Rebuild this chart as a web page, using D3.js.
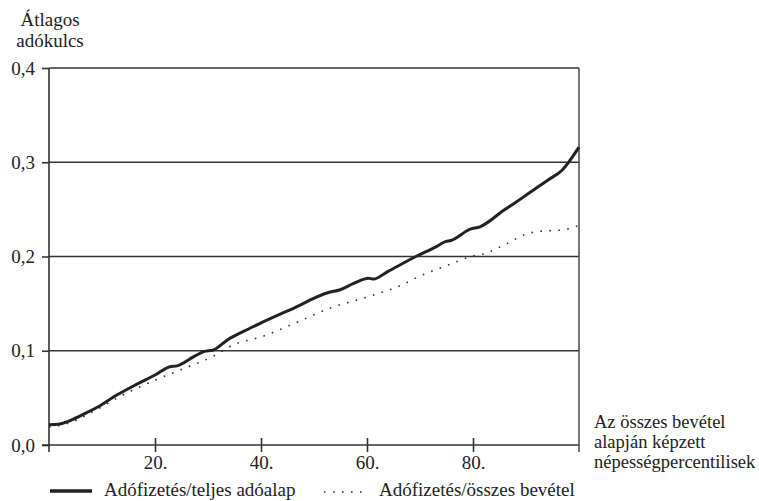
<!DOCTYPE html>
<html><head><meta charset="utf-8">
<script src="https://cdn.jsdelivr.net/npm/d3@7"></script>
<style>body{margin:0;background:#fff}svg{display:block}text{font-family:"Liberation Serif","Times New Roman",serif;fill:#222}</style>
</head><body><svg id="c" width="759" height="501"></svg>
<script>
const solidX = [0,1.8,3.6,5.9,9.1,12.8,16.4,20.1,22.8,24.2,27.4,29.2,31.1,33.8,36.5,40.2,45.7,52.9,54.8,57.5,60.3,61.2,63.9,69.4,73.1,74.9,75.8,79.5,81.3,85.8,89.5,94.1,96.8,100];
const solidY = [0.0215,0.022,0.025,0.031,0.040,0.053,0.064,0.0745,0.083,0.084,0.094,0.099,0.101,0.112,0.120,0.130,0.144,0.162,0.1645,0.1715,0.177,0.176,0.184,0.2005,0.2105,0.216,0.217,0.229,0.2315,0.249,0.263,0.281,0.2915,0.316];
const dotX = [0,3.6,9.1,14.6,20.1,25.6,31.1,34.7,40.2,45.7,52.9,60.3,65.8,70.3,75.8,79.9,82.2,85.8,90.4,93.2,96.8,100];
const dotY = [0.019,0.023,0.038,0.055,0.069,0.0815,0.0946,0.106,0.115,0.1275,0.145,0.1575,0.168,0.180,0.192,0.2005,0.203,0.212,0.2245,0.227,0.228,0.233];
const yTicks = [0,0.1,0.2,0.3,0.4];
const yTickLabels = ["0,0","0,1","0,2","0,3","0,4"];
const xTicks = [20,40,60,80];
const xTickLabels = ["20.","40.","60.","80."];
const seriesNames = ["Adófizetés/teljes adóalap","Adófizetés/összes bevétel"];
const yTitle = ["Átlagos","adókulcs"];
const xTitle = ["Az összes bevétel","alapján képzett","népességpercentilisek"];

const svg = d3.select("#c");
const L=49,R=579,T=68,B=445;
const x = d3.scaleLinear().domain([0,100]).range([L,R]);
const y = d3.scaleLinear().domain([0,0.4]).range([B,T]);
const col="#333";

// gridlines
svg.append("g").selectAll("line").data(yTicks.slice(1)).join("line")
  .attr("x1",L).attr("x2",R).attr("y1",d=>y(d)).attr("y2",d=>y(d))
  .attr("stroke",col).attr("stroke-width",1.6);
// right border
svg.append("line").attr("x1",R).attr("x2",R).attr("y1",T).attr("y2",B+7).attr("stroke","#555").attr("stroke-width",1.6);

// y axis
const ya = svg.append("g").attr("transform",`translate(${L},0)`)
  .call(d3.axisLeft(y).tickValues(yTicks).tickFormat((d,i)=>yTickLabels[i]).tickSize(7).tickPadding(7));
ya.select(".domain").attr("stroke",col).attr("stroke-width",1.6).attr("d",`M0,${T}V${B+7}`);
ya.selectAll(".tick line").attr("stroke",col).attr("stroke-width",1.6);
ya.selectAll("text").style("font-size","19px").attr("font-family","Liberation Serif").attr("fill","#222");

// x axis
const xa = svg.append("g").attr("transform",`translate(0,${B})`)
  .call(d3.axisBottom(x).tickValues(xTicks).tickFormat((d,i)=>xTickLabels[i]).tickSize(7).tickPadding(4));
xa.select(".domain").attr("stroke",col).attr("stroke-width",1.6).attr("d",`M${L-7},0H${R}`);
xa.selectAll(".tick line").attr("stroke",col).attr("stroke-width",1.6).attr("y1",-7);
xa.selectAll("text").style("font-size","19px").attr("font-family","Liberation Serif").attr("fill","#222");

// lines
const line = d3.line().x(d=>x(d[0])).y(d=>y(d[1])).curve(d3.curveMonotoneX);
svg.append("path").datum(dotX.map((v,i)=>[v,dotY[i]])).attr("d",line)
  .attr("fill","none").attr("stroke","#333").attr("stroke-width",1.6).attr("stroke-dasharray","1.6,7.4");
svg.append("path").datum(solidX.map((v,i)=>[v,solidY[i]])).attr("d",line)
  .attr("fill","none").attr("stroke","#222").attr("stroke-width",3).attr("stroke-linejoin","round");

// titles
svg.append("g").selectAll("text").data(yTitle).join("text")
  .attr("x",50).attr("y",(d,i)=>26+i*21).attr("text-anchor","middle").style("font-size","19px").text(d=>d);
svg.append("g").selectAll("text").data(xTitle).join("text")
  .attr("x",594).attr("y",(d,i)=>428+i*20).style("font-size","18.5px").text(d=>d);

// legend
svg.append("line").attr("x1",50).attr("x2",92).attr("y1",491).attr("y2",491).attr("stroke","#222").attr("stroke-width",3.5);
svg.append("text").attr("x",104).attr("y",496).style("font-size","19px").text(seriesNames[0]);
svg.append("line").attr("x1",324).attr("x2",364).attr("y1",492).attr("y2",492).attr("stroke","#333").attr("stroke-width",1.6).attr("stroke-dasharray","1.6,7.4");
svg.append("text").attr("x",379).attr("y",496).style("font-size","19px").text(seriesNames[1]);
</script></body></html>
